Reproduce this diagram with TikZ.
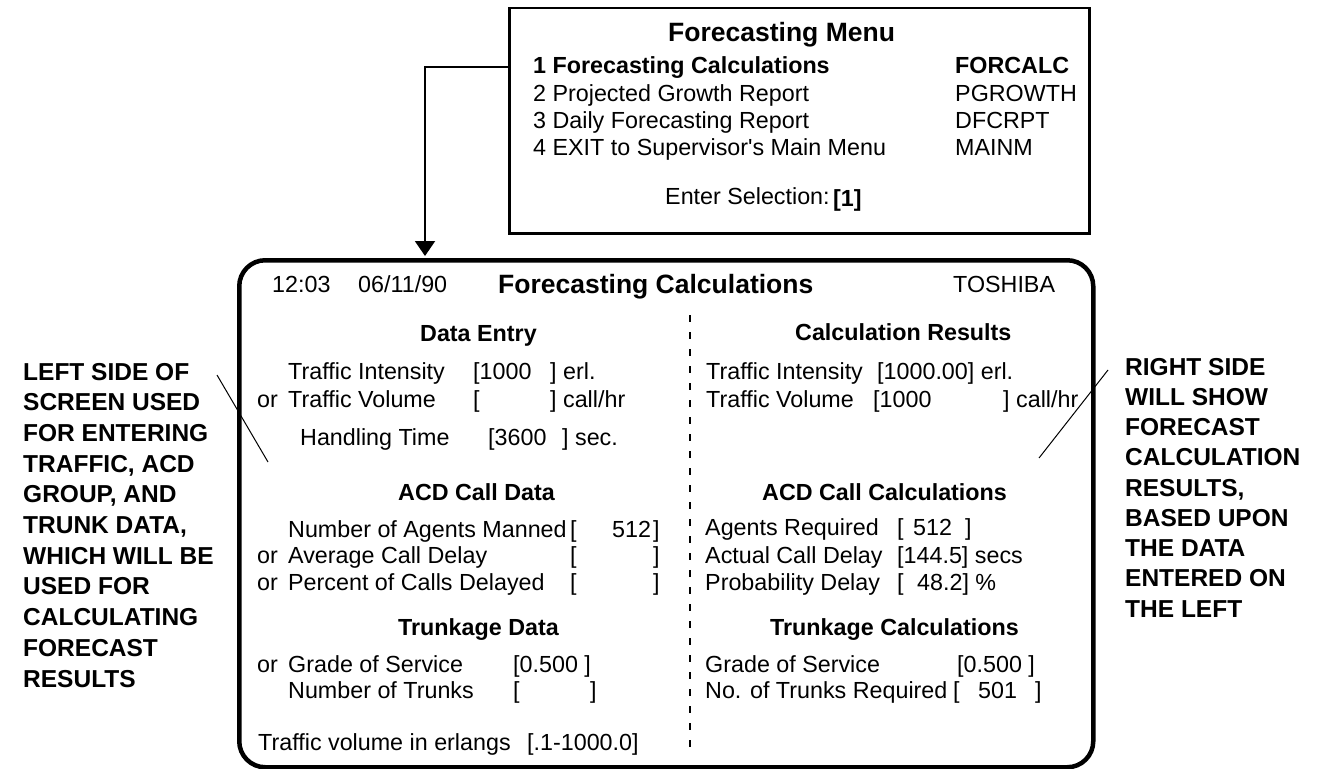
\documentclass[tikz,border=0pt]{standalone}
\usepackage{fontspec}
\setmainfont{Liberation Sans}[Ligatures=TeXOff]
\usetikzlibrary{arrows.meta}
\begin{document}
\begin{tikzpicture}[x=1pt,y=-1pt,
  lbl/.style={anchor=base west, inner sep=0pt, font=\fontsize{23.3}{28}\selectfont},
  blbl/.style={anchor=base west, inner sep=0pt, font=\fontsize{23.3}{28}\selectfont\bfseries},
  ttl/.style={anchor=base west, inner sep=0pt, font=\fontsize{26.5}{30}\selectfont\bfseries},
  note/.style={anchor=base west, inner sep=0pt, font=\fontsize{24.5}{30}\selectfont\bfseries},
  menubox/.style={draw, line width=2.5pt, inner sep=0pt, anchor=north west},
  screenbox/.style={draw, line width=4.5pt, rounded corners=26pt, inner sep=0pt, anchor=north west},
  pointer/.style={line width=1pt},
  divider/.style={line width=1.3pt, dash pattern=on 7pt off 10pt},
  arr/.style={line width=2pt, -{Triangle[width=20pt,length=15pt]}}]
\useasboundingbox (0,0) rectangle (1319,768);

% --- frames ---
\node[menubox, minimum width=580pt, minimum height=225pt] (menu) at (508,7) {};
\node[screenbox, minimum width=854pt, minimum height=507pt] (screen) at (237,258) {};

% --- selection arrow from the menu down to the screen ---
\coordinate (ay) at (0,67);
\coordinate (ax) at (425,0);
\draw[arr] (menu.west |- ay) -| ([yshift=2pt]screen.north -| ax);

% --- menu ---
\node[ttl] (mtitle) at (668,42) {Forecasting Menu};
\node[blbl] (m1) at (533,74) {1 Forecasting Calculations};
\node[blbl] (c1) at (955,74) {FORCALC};
\node[lbl] (m2) at (533,101) {2 Projected Growth Report};
\node[lbl] (c2) at (955,101) {PGROWTH};
\node[lbl] (m3) at (533,128) {3 Daily Forecasting Report};
\node[lbl] (c3) at (955,128) {DFCRPT};
\node[lbl] (m4) at (533,155) {4 EXIT to Supervisor's Main Menu};
\node[lbl] (c4) at (955,155) {MAINM};
\node[lbl] (sel) at (665,204) {Enter Selection:};
\node[blbl] (selv) at (833,206) {[1]};

% --- screen header ---
\node[lbl] (time) at (272,292) {12:03};
\node[lbl] (date) at (358,292) {06/11/90};
\node[ttl] (stitle) at (498,293) {Forecasting Calculations};
\node[lbl] (brand) at (953,292) {TOSHIBA};

% --- divider ---
\coordinate (dtop) at (690,315);
\coordinate (dbot) at (690,750);
\draw[divider] (dtop) -- (dbot);

% --- left half: data entry ---
\node[blbl] (hde) at (420,341) {Data Entry};
\node[lbl] (ti) at (288,379) {Traffic Intensity};
\node[lbl] (tiv) at (473,379) {[1000};
\node[lbl] (tiu) at (550,379) {] erl.};
\node[lbl] (or1) at (257,407) {or};
\node[lbl] (tv) at (288,407) {Traffic Volume};
\node[lbl] (tvv) at (473,407) {[};
\node[lbl] (tvu) at (550,407) {] call/hr};
\node[lbl] (ht) at (300,445) {Handling Time};
\node[lbl] (htv) at (488,445) {[3600};
\node[lbl] (htu) at (562,445) {] sec.};

\node[blbl] (hacd) at (398,500) {ACD Call Data};
\node[lbl] (na) at (288,537) {Number of Agents Manned};
\node[lbl] (nao) at (570,537) {[};
\node[lbl] (nav) at (612,537) {512};
\node[lbl] (nac) at (653,537) {]};
\node[lbl] (or2) at (257,563) {or};
\node[lbl] (ad) at (288,563) {Average Call Delay};
\node[lbl] (ado) at (570,563) {[};
\node[lbl] (adc) at (653,563) {]};
\node[lbl] (or3) at (257,590) {or};
\node[lbl] (pc) at (288,590) {Percent of Calls Delayed};
\node[lbl] (pco) at (570,590) {[};
\node[lbl] (pcc) at (653,590) {]};

\node[blbl] (htr) at (398,635) {Trunkage Data};
\node[lbl] (or4) at (257,672) {or};
\node[lbl] (gs) at (288,672) {Grade of Service};
\node[lbl] (gsv) at (513,672) {[0.500 ]};
\node[lbl] (nt) at (288,698) {Number of Trunks};
\node[lbl] (nto) at (513,698) {[};
\node[lbl] (ntc) at (590,698) {]};
\node[lbl] (range) at (258,750) {Traffic volume in erlangs};
\node[lbl] (rangev) at (527,750) {[.1-1000.0]};

% --- right half: results ---
\node[blbl] (hcr) at (795,340) {Calculation Results};
\node[lbl] (rti) at (706,379) {Traffic Intensity};
\node[lbl] (rtiv) at (877,379) {[1000.00] erl.};
\node[lbl] (rtv) at (706,407) {Traffic Volume};
\node[lbl] (rtvv) at (873,407) {[1000};
\node[lbl] (rtvu) at (1003,407) {] call/hr};

\node[blbl] (hacc) at (762,500) {ACD Call Calculations};
\node[lbl] (ar) at (705,535) {Agents Required};
\node[lbl] (aro) at (897,535) {[};
\node[lbl] (arv) at (913,535) {512};
\node[lbl] (arc) at (965,535) {]};
\node[lbl] (acd) at (705,563) {Actual Call Delay};
\node[lbl] (acdv) at (897,563) {[144.5] secs};
\node[lbl] (pd) at (705,590) {Probability Delay};
\node[lbl] (pdo) at (897,590) {[};
\node[lbl] (pdv) at (917,590) {48.2] \%};

\node[blbl] (htc) at (770,635) {Trunkage Calculations};
\node[lbl] (rgs) at (705,672) {Grade of Service};
\node[lbl] (rgsv) at (957,672) {[0.500 ]};
\node[lbl] (rnt) at (705,698) {No. of Trunks Required};
\node[lbl] (rnto) at (953,698) {[};
\node[lbl] (rntv) at (978,698) {501};
\node[lbl] (rntc) at (1035,698) {]};

% --- side notes with their pointer strokes ---
\foreach \s [count=\i] in {LEFT SIDE OF, SCREEN USED, FOR ENTERING, {TRAFFIC, ACD}, {GROUP, AND}, {TRUNK DATA,}, WHICH WILL BE, USED FOR, CALCULATING, FORECAST, RESULTS}
  \node[note] (ln\i) at (23,{380+30.7*(\i-1)}) {\s};
\foreach \s [count=\i] in {RIGHT SIDE, WILL SHOW, FORECAST, CALCULATION, {RESULTS,}, BASED UPON, THE DATA, ENTERED ON, THE LEFT}
  \node[note] (rn\i) at (1125,{375+30.25*(\i-1)}) {\s};

\coordinate (lp1) at (217,375);
\coordinate (lp2) at (268,462);
\draw[pointer] (lp1) -- (lp2);
\coordinate (rp1) at (1108,370);
\coordinate (rp2) at (1039,458);
\draw[pointer] (rp1) -- (rp2);
\end{tikzpicture}
\end{document}
